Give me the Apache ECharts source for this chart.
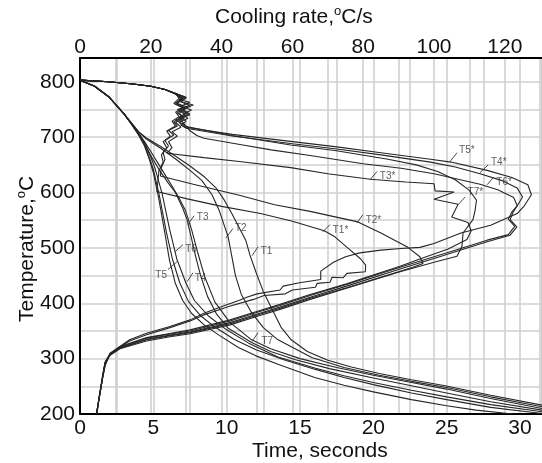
<!DOCTYPE html>
<html>
<head>
<meta charset="utf-8">
<script src="https://cdn.jsdelivr.net/npm/echarts@6/dist/echarts.min.js"></script>
<style>
html,body{margin:0;padding:0;background:#fff;}
#chart{width:542px;height:463px;}
</style>
</head>
<body>
<div id="chart"></div>
<script>
// ---- Axis ticks ----
const timeTicks = [0, 5, 10, 15, 20, 25, 30];
const rateTicks = [0, 20, 40, 60, 80, 100, 120];
const tempTicks = [200, 300, 400, 500, 600, 700, 800];

// ---- Cooling curves: [time s, temperature C] ----
const coolT5 = [[0,803],[1,792],[2,772],[3,742],[3.5,724],[4,704],[4.4,684],[4.7,662],[5.0,636],[5.35,592],[5.8,525],[6.1,478],[6.5,436],[7.0,405],[7.6,382],[8.5,360],[9.5,342],[10.8,320],[12,305],[13.5,290],[16,266],[18,252],[20,240],[22.6,226],[25,215],[27,207],[29.5,200]];
const coolT6 = [[0,803],[1,792],[2,772],[3,742],[3.5,724],[4,704],[4.4,686],[4.7,665],[5.0,642],[5.4,596],[5.9,527],[6.3,480],[6.8,437],[7.4,403],[8.2,378],[9.2,357],[10.5,335],[12,316],[14,297],[16,281],[18,266],[20,253],[22.6,238],[25,226],[28,212],[31.5,201]];
const coolT4 = [[0,803],[1,792],[2,772],[3,742],[3.5,724],[4,705],[4.4,688],[4.8,666],[5.1,645],[5.6,598],[6.1,535],[6.6,480],[7.2,438],[7.8,405],[8.8,376],[10,352],[11.5,328],[13.5,303],[16,283],[18,269],[20,257],[22.6,243],[25,231],[28,217],[31.5,204]];
const coolT3 = [[0,803],[1,792],[2,772],[3,742],[3.5,725],[4,707],[4.4,690],[4.8,668],[5.4,641],[6.0,618],[6.5,600],[7.0,572],[7.3,551],[7.6,517],[7.9,483],[8.2,452],[8.7,412],[9.3,381],[10.1,355],[11.7,329],[13,313],[14.7,298],[17,282],[20,265],[22.6,251],[25,238],[28,222],[31.5,207]];
const coolT7 = [[0,803],[1,792],[2,772],[3,742],[3.5,725],[4,707],[4.4,692],[4.9,671],[5.5,645],[6.2,615],[6.7,593],[7.2,567],[7.6,534],[8.0,494],[8.5,448],[9.2,402],[10.2,366],[11.7,334],[13,318],[15,300],[17.5,284],[20,270],[22.6,257],[25,245],[28,228],[31.5,210]];
const coolT2 = [[0,803],[1,792],[2,772],[3,742],[3.5,726],[4,709],[4.5,697],[5.5,680],[6.5,661],[7.5,640],[8.3,622],[9.0,596],[9.5,567],[10.1,520],[10.6,450],[11.0,416],[11.7,383],[12.5,356],[13.5,334],[15.8,302],[18,284],[20.4,270],[22.6,259],[25,248],[28,231],[31.5,213]];
const coolT1 = [[0,803],[1,792],[2,772],[3,742],[3.5,726],[4,710],[4.5,699],[5.5,683],[6.5,666],[7.5,648],[8.5,628],[9.25,609],[9.8,588],[10.35,562],[11.3,514],[11.6,486],[12.0,456],[12.5,421],[13.1,389],[13.7,357],[14.4,334],[15.5,313],[16.9,297],[18.5,285],[20.4,273],[22.6,262],[24.9,251],[28,234],[31.5,216]];

// ---- Cooling-rate curves: [rate C/s, temperature C] ----
const rateT5 = [[0,803],[8,800],[15,796],[20,792],[24,786],[27,779],[29.5,773],[28,768],[31,763],[28.5,756],[31.5,749],[29,742],[30.5,734],[28,727],[29,721],[30,718],[43,705],[60,692],[72,683],[85,672],[99,660],[104.8,655],[115,640],[122,627],[126.5,614],[127.5,596],[125.5,576],[123.5,562],[116,541],[107.6,527],[100,508],[96,501],[90.7,499],[85,496],[79,491],[75,484],[71.6,474],[68,458],[68,443],[62,437],[57.4,431],[56.5,424],[50,417],[47.1,411],[45.2,406],[39.5,393],[35,382],[31.1,370],[25.4,358],[18.8,346],[14,334],[11.3,322],[8.5,310],[7.1,287],[6.3,262],[5.6,237],[5,214],[4.6,200]];
const rateT4 = [[0,803],[8,800],[15,796],[20,792],[24,786],[27,778],[30,771],[28.5,764],[31,757],[27.5,750],[30.5,744],[28,736],[30,729],[28.5,722],[30,716],[43,702],[60,688],[72,679],[85,668],[99,655],[106,646],[113,634],[119,622],[123.5,608],[125,592],[123.5,576],[122.3,564],[121.5,551],[123.4,538],[121.5,523],[115,511],[108,497],[100,481],[90.4,462],[75.3,431],[65,411],[56.5,393],[50.8,382],[42.4,365],[31.1,348],[25,342],[18.8,335],[11.3,320],[8.5,308],[7.1,293],[6.5,272],[6,252],[5.5,233],[5,214],[4.7,200]];
const rateT6 = [[0,803],[8,800],[15,796],[20,792],[24,786],[27,779],[30,772],[28,765],[32,758],[29,750],[31,742],[28,734],[29,727],[31,712],[33,703],[35,698],[46,686],[54,677],[65,667],[80,652],[90.7,644],[100,634],[113,615],[118,605],[122.5,591],[123.5,576],[122,565],[121,552],[122.8,539],[121,524],[115,514],[108,500],[100,484],[90.4,465],[75.3,434],[65,414],[56.5,396],[50.8,385],[42.4,368],[31.1,350],[25,344],[18.8,337],[11.3,321],[8.5,309],[7.1,294],[6.5,274],[6,254],[5.5,235],[5.1,215],[4.8,200]];
const rateT7 = [[0,803],[8,800],[15,796],[20,792],[24,786],[27.5,778],[29,770],[27,762],[30,755],[28,747],[31,740],[27,731],[29,724],[30,719],[43,703],[59.5,686],[72,676],[87,660],[95,650],[101,638],[106,623],[110,604],[112,586],[111.6,568],[111,551],[108.2,527],[107.9,503],[106.5,485],[100,474],[90.4,457],[75.3,427],[65,407],[56.5,389],[50.8,378],[42.4,361],[31.1,345],[25,339],[18.8,332],[11.3,318],[8.5,306],[7.1,291],[6.5,270],[6,250],[5.5,231],[5,212],[4.7,200]];
const rateT3 = [[0,803],[8,800],[15,796],[20,792],[24,786],[27,778],[29,770],[27.5,760],[30,752],[28,743],[29.5,735],[27,727],[28.5,718],[26,710],[27.5,702],[25,692],[26,681],[24.6,671],[35,663],[45,656],[59.5,645],[70,634],[82,624],[92,619],[100,616],[100.3,603],[105.7,601],[100,588],[106.8,579],[105,556],[109.6,546],[110.5,531],[109.3,515],[104,498],[96,480],[90.4,467],[75.3,435],[65,416],[56.5,398],[50.8,387],[42.4,370],[31.1,352],[25,345],[18.8,338],[11.3,322],[8.5,309],[7.1,293],[6.5,272],[6,252],[5.5,233],[5,214],[4.7,200]];
const rateT2 = [[0,803],[8,800],[15,796],[20,792],[24,786],[27,778],[28.5,769],[27,760],[29.5,752],[27.5,744],[29,737],[26.5,728],[27.5,720],[25,712],[26.5,704],[24,694],[25,684],[23.5,672],[24,660],[23,645],[22.7,630],[32,615],[45,595],[55,578],[65,566],[78.5,547],[85,527],[92.6,501],[96,484],[96.9,472],[94,465],[90.4,458],[75.3,428],[65,409],[56.5,391],[50.8,380],[42.4,363],[31.1,347],[25,341],[18.8,334],[11.3,319],[8.5,307],[7.1,292],[6.5,271],[6,251],[5.5,232],[5,213],[4.6,200]];
const rateT1 = [[0,803],[8,800],[15,796],[20,792],[24,786],[27,779],[28,770],[26.5,761],[29,753],[27,745],[28,737],[26,729],[27,720],[24.5,711],[25.5,702],[23.5,692],[24.5,681],[23,668],[23.5,655],[22.3,640],[22,620],[21.7,602],[30,589],[40,575],[51,562],[60,548],[69,531],[72,520],[75.6,500],[79.3,480],[80.7,469],[80.6,457],[75.4,454],[74.3,446],[71.2,447],[70.6,438],[67,436],[66.5,429],[60,424],[58,417],[52,414],[49,407],[42,394],[35,379],[31.1,368],[25.4,356],[18.8,343],[14,332],[11.3,321],[8.5,309],[7.1,289],[6.3,262],[5.6,236],[5,213],[4.7,200]];

// ---- Curve annotations (data units): name, leader start (on curve), leader end, text anchor, side ----
const coolNotes = [
  ['T3', [7.36,542], [7.77,558], [7.9,556], 'right'],
  ['T2', [9.95,518], [10.43,535], [10.5,535], 'right'],
  ['T1', [11.73,486], [12.14,502], [12.25,494], 'right'],
  ['T6', [6.48,493], [7.02,506], [7.1,498], 'right'],
  ['T5', [6.61,475], [6.0,461], [6.0,451], 'left'],
  ['T4', [7.3,439], [7.7,455], [7.75,445], 'right'],
  ['T7', [11.73,331], [12.14,347], [12.3,332], 'right']
];
const rateNotes = [
  ['T5*', [104.5,656], [106.5,672], [106.8,677], 'right'],
  ['T4*', [113,636], [115.3,650], [115.8,655], 'right'],
  ['T6*', [115,614], [116.7,627], [117.3,618], 'right'],
  ['T3*', [81.9,623], [83.9,638], [84.4,629], 'right'],
  ['T7*', [106.8,578], [108.8,592], [109.2,600], 'right'],
  ['T2*', [78.2,545], [79.9,560], [80.4,550], 'right'],
  ['T1*', [68.6,529], [70.6,542], [71.1,531], 'right']
];

const coolSeries = {T1: coolT1, T2: coolT2, T3: coolT3, T4: coolT4, T5: coolT5, T6: coolT6, T7: coolT7};
const rateSeries = {'T1*': rateT1, 'T2*': rateT2, 'T3*': rateT3, 'T4*': rateT4, 'T5*': rateT5, 'T6*': rateT6, 'T7*': rateT7};

const FONT = 'Liberation Sans, Arial, sans-serif';
const LINE = '#262626';

const series = [];
Object.keys(coolSeries).forEach(function (k) {
  series.push({type:'line', name:k, xAxisIndex:0, yAxisIndex:0, data:coolSeries[k],
    showSymbol:false, smooth:false, silent:true, lineStyle:{color:LINE, width:1.1}, z:3});
});
Object.keys(rateSeries).forEach(function (k) {
  series.push({type:'line', name:k, xAxisIndex:1, yAxisIndex:0, data:rateSeries[k],
    showSymbol:false, smooth:false, silent:true, lineStyle:{color:LINE, width:1.1}, z:3});
});
function addNotes(notes, axisIdx) {
  notes.forEach(function (n) {
    series.push({type:'line', xAxisIndex:axisIdx, yAxisIndex:0, data:[n[1], n[2]],
      showSymbol:false, silent:true, lineStyle:{color:'#333', width:0.9}, z:4});
  });
  series.push({type:'scatter', xAxisIndex:axisIdx, yAxisIndex:0, symbolSize:0, silent:true, z:5,
    data: notes.map(function (n) {
      return {value:n[3], name:n[0], label:{position:n[4]}};
    }),
    label:{show:true, formatter:'{b}', fontSize:10, color:'#333', fontFamily:FONT, distance:1}
  });
}
addNotes(coolNotes, 0);
addNotes(rateNotes, 1);

const titleRich = {
  a:{fontSize:21, fill:'#111', fontFamily:FONT},
  s:{fontSize:13, fill:'#111', fontFamily:FONT, padding:[0,0,12,0]}
};

const chart = echarts.init(document.getElementById('chart'), null, {renderer:'canvas'});
chart.setOption({
  animation:false,
  backgroundColor:'#fff',
  grid:{left:80, right:0, top:58, bottom:49, containLabel:false, outerBoundsMode:'none'},
  xAxis:[
    {type:'value', position:'bottom', min:0, max:31.5, interval:2.5,
     axisLine:{show:true, onZero:false, lineStyle:{color:'#000', width:2}},
     axisTick:{show:false},
     axisLabel:{fontSize:21, color:'#111', fontFamily:FONT, margin:4, showMaxLabel:false,
       formatter:function (v) { return timeTicks.indexOf(v) >= 0 ? String(v) : ''; }},
     splitLine:{show:true, lineStyle:{color:'#d0d0d0', width:1.6}}},
    {type:'value', position:'top', min:0, max:130.5, interval:10,
     axisLine:{show:true, onZero:false, lineStyle:{color:'#000', width:2}},
     axisTick:{show:false},
     axisLabel:{fontSize:21, color:'#111', fontFamily:FONT, margin:0, showMaxLabel:false,
       formatter:function (v) { return rateTicks.indexOf(v) >= 0 ? String(v) : ''; }},
     splitLine:{show:true, lineStyle:{color:'#d0d0d0', width:1.6}}}
  ],
  yAxis:[
    {type:'value', min:200, max:843, interval:50,
     axisLine:{show:true, onZero:false, lineStyle:{color:'#000', width:2}},
     axisTick:{show:false},
     axisLabel:{fontSize:21, color:'#111', fontFamily:FONT, margin:5, showMaxLabel:false,
       formatter:function (v) { return tempTicks.indexOf(v) >= 0 ? String(v) : ''; }},
     splitLine:{show:true, lineStyle:{color:'#d0d0d0', width:1.6}}}
  ],
  graphic:[
    {type:'text', left:215, top:5, style:{text:'{a|Cooling rate,}{s|o}{a|C/s}', rich:titleRich}},
    {type:'text', left:252, top:441, style:{text:'{a|Time, seconds}', rich:titleRich}},
    {type:'text', x:15, y:322, rotation:Math.PI/2, style:{text:'{a|Temperature,}{s|o}{a|C}', rich:titleRich}}
  ],
  series: series
});
</script>
</body>
</html>
